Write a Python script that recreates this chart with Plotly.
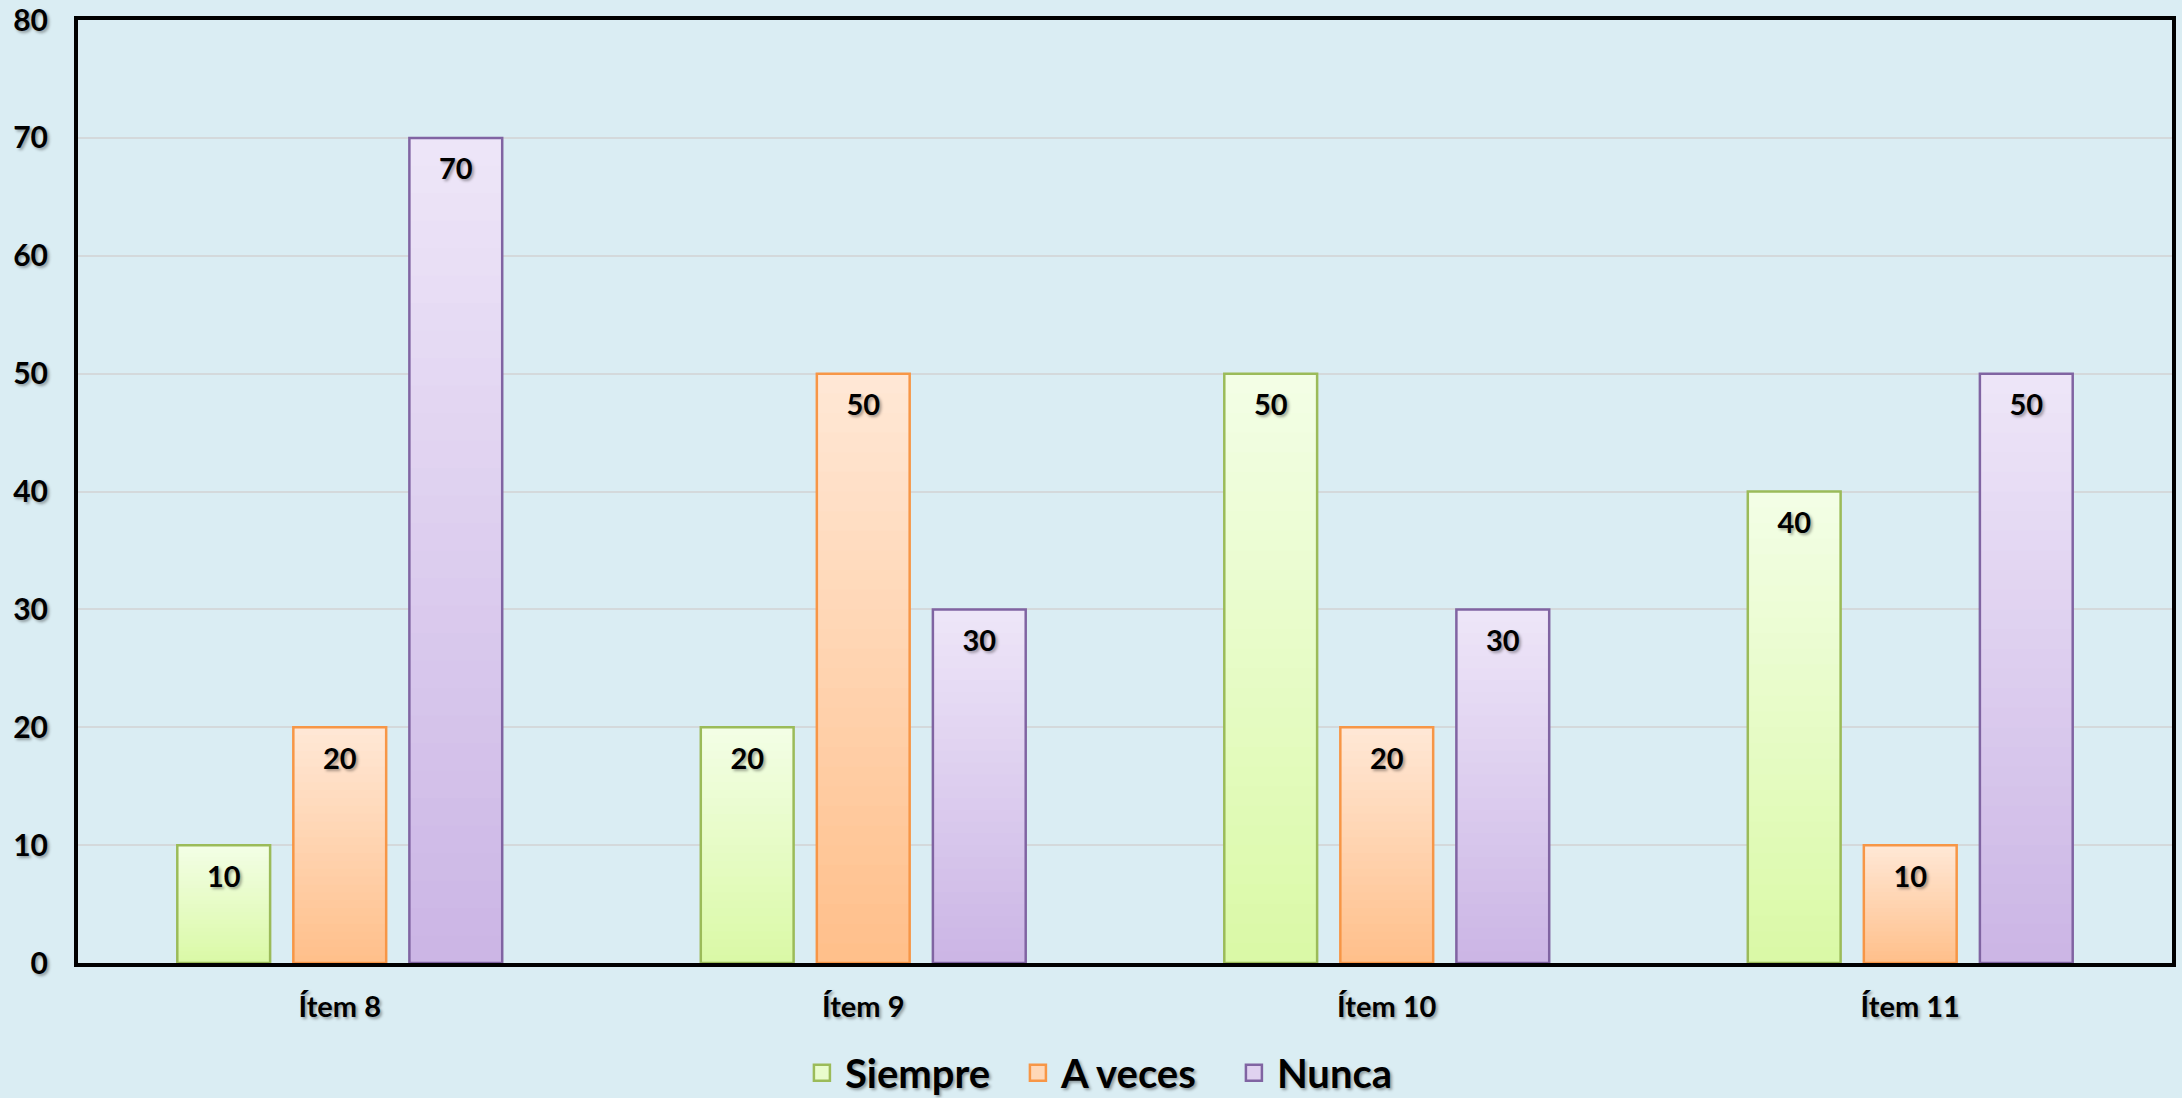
import plotly.graph_objects as go

categories = ["Ítem 8", "Ítem 9", "Ítem 10", "Ítem 11"]
siempre = [10, 20, 50, 40]
a_veces = [20, 50, 20, 10]
nunca = [70, 30, 30, 50]
y_ticks = [0, 10, 20, 30, 40, 50, 60, 70, 80]

# name, values, gradient bottom colour, gradient top colour, outline colour
series = [
    ("Siempre", siempre, (218, 249, 166), (243, 254, 230), "#9BBB59"),
    ("A veces", a_veces, (255, 191, 138), (255, 232, 214), "#F79646"),
    ("Nunca", nunca, (203, 181, 229), (238, 230, 248), "#8064A2"),
]

FONT = "Lato"
SHADOW = "2px 2px 3px rgba(0,0,0,0.35)"
GAP = 0.335
N_STEPS = 30


def mix(c0, c1, t):
    return "rgb(%d,%d,%d)" % tuple(round(a + (b - a) * t) for a, b in zip(c0, c1))


fig = go.Figure()
for name, vals, c_bot, c_top, line in series:
    # vertical gradient: each bar split into slices from its own value;
    # each slice reaches into the next one (drawn later) to hide seams
    for k in range(N_STEPS):
        t = (k + 0.5) / N_STEPS
        top = min(k + 2, N_STEPS)
        fig.add_trace(go.Bar(
            x=categories, y=[v * (top - k) / N_STEPS for v in vals],
            base=[v * k / N_STEPS for v in vals],
            offsetgroup=name, showlegend=False, hoverinfo="skip",
            marker=dict(color=mix(c_bot, c_top, t), line=dict(width=0)),
        ))
    # outline
    fig.add_trace(go.Bar(
        name=name, x=categories, y=vals, offsetgroup=name, showlegend=False,
        marker=dict(color="rgba(0,0,0,0)", line=dict(color=line, width=2.5)),
        hoverinfo="skip",
    ))
# value labels, aligned with the grouped bars
for name, vals, c_bot, c_top, line in series:
    fig.add_trace(go.Scatter(
        x=categories, y=vals, mode="markers+text", offsetgroup=name,
        text=vals, textposition="bottom center", cliponaxis=False,
        marker=dict(size=30, opacity=0), showlegend=False, hoverinfo="skip",
        textfont=dict(family=FONT, size=29, color="black", weight="bold", shadow=SHADOW),
    ))
# legend entries (on a hidden overlay axis)
for name, vals, c_bot, c_top, line in series:
    fig.add_trace(go.Scatter(
        name=name, x=[None], y=[None], mode="markers", xaxis="x2", yaxis="y2",
        marker=dict(symbol="square", size=16, color=mix(c_bot, c_top, 0.6),
                    line=dict(color=line, width=2.5)),
        showlegend=True,
    ))

bg = "#DAEDF3"
fig.update_layout(
    barmode="group", bargap=GAP, bargroupgap=0.2,
    scattermode="group", scattergap=GAP,
    paper_bgcolor=bg, plot_bgcolor=bg,
    width=2182, height=1098,
    margin=dict(l=78, r=10, t=20, b=135, autoexpand=False),
    font=dict(family=FONT, color="black"),
    showlegend=True,
    legend=dict(orientation="h", x=0.499, xanchor="center",
                yref="container", y=0.023, yanchor="middle",
                font=dict(family=FONT, size=40, weight="bold", shadow=SHADOW),
                bgcolor="rgba(0,0,0,0)", itemsizing="trace", itemwidth=36,
                entrywidth=165),
    xaxis2=dict(overlaying="x", visible=False),
    yaxis2=dict(overlaying="y", visible=False),
    xaxis=dict(showline=True, mirror=True, linecolor="black", linewidth=4,
               ticks="", ticklabelstandoff=15, automargin=False,
               tickfont=dict(family=FONT, size=29, weight="bold", shadow=SHADOW)),
    yaxis=dict(range=[0, 80], tickvals=y_ticks, showline=True, mirror=True,
               linecolor="black", linewidth=4, showgrid=True, gridcolor="#D4D9DB",
               gridwidth=1.5, zeroline=False, ticks="", ticklabelstandoff=20,
               automargin=False,
               tickfont=dict(family=FONT, size=30, weight="bold", shadow=SHADOW)),
)

fig.write_html("out.html", config={"displayModeBar": False},
               post_script="document.body.style.margin='0';document.body.style.overflow='hidden';")
